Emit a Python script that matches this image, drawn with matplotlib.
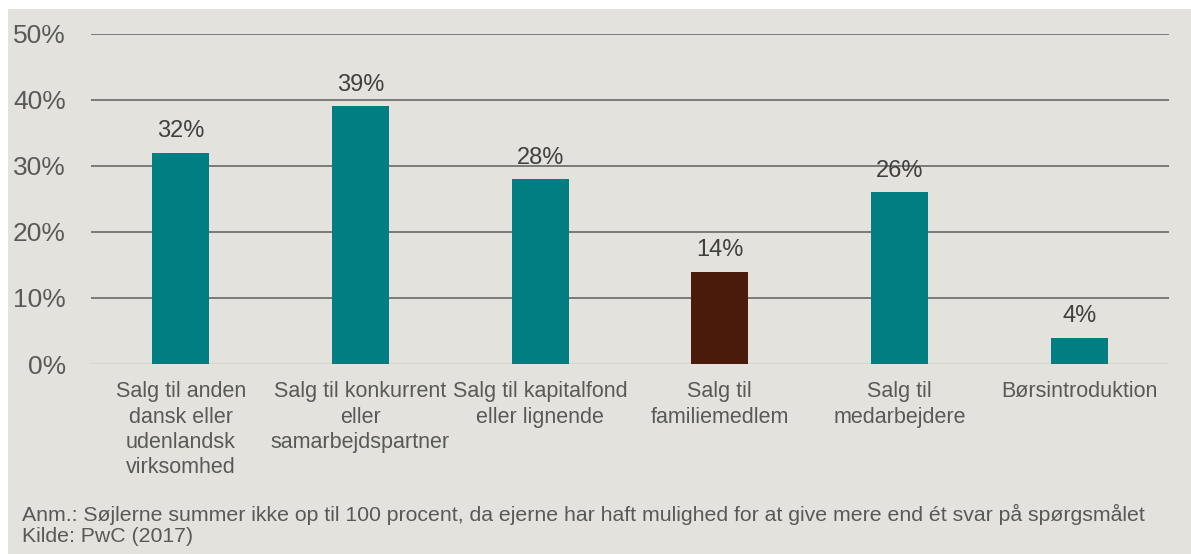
import matplotlib
matplotlib.use('Agg')
import matplotlib.pyplot as plt
from matplotlib.patches import Rectangle

plt.rcParams['font.family'] = ['Liberation Sans', 'DejaVu Sans']

categories = [
    'Salg til anden\ndansk eller\nudenlandsk\nvirksomhed',
    'Salg til konkurrent\neller\nsamarbejdspartner',
    'Salg til kapitalfond\neller lignende',
    'Salg til\nfamiliemedlem',
    'Salg til\nmedarbejdere',
    'Børsintroduktion',
]
values = [32, 39, 28, 14, 26, 4]
value_labels = ['32%', '39%', '28%', '14%', '26%', '4%']
highlight = [False, False, False, True, False, False]
yticks = [0, 10, 20, 30, 40, 50]
ytick_labels = ['0%', '10%', '20%', '30%', '40%', '50%']
note = ('Anm.: Søjlerne summer ikke op til 100 procent, da ejerne har haft '
        'mulighed for at give mere end ét svar på spørgsmålet')
source = 'Kilde: PwC (2017)'

TEAL = '#007E82'
BROWN = '#4A1B0A'
BG = '#E3E2DD'
GRID = '#686868'
TXT = '#595959'
VAL = '#404040'

W, H = 1191, 554
fig = plt.figure(figsize=(W / 100, H / 100), dpi=100, facecolor='white')
fig.patches.append(Rectangle((8 / W, 0), 1, 1 - 9 / H, transform=fig.transFigure,
                             facecolor=BG, edgecolor='none', zorder=-10))

ax = fig.add_axes([91 / W, 1 - 364 / H, (1169 - 91) / W, (364 - 33.7) / H])
ax.set_facecolor(BG)
ax.patch.set_alpha(0)

x = list(range(len(categories)))
colors = [BROWN if h else TEAL for h in highlight]
bars = ax.bar(x, values, width=0.317, color=colors, zorder=3)

for b, lbl in zip(bars, value_labels):
    ax.annotate(lbl, (b.get_x() + b.get_width() / 2, b.get_height()),
                xytext=(0, 11), textcoords='offset points', ha='center',
                va='baseline', fontsize=17, color=VAL)

ax.set_xlim(-0.5, len(categories) - 0.5)
ax.set_ylim(0, 50)
ax.set_yticks(yticks)
ax.set_yticklabels(ytick_labels, fontsize=19, color=TXT)
ax.set_xticks(x)
ax.set_xticklabels(categories, fontsize=15.5, color=TXT, linespacing=1.27, va='top')
ax.tick_params(axis='both', length=0)
ax.tick_params(axis='y', pad=18)
ax.tick_params(axis='x', pad=12.5)

for yv in yticks[1:]:
    ax.axhline(yv, color=GRID, lw=1.2, zorder=1)
ax.axhline(0, color='#D6D5D0', lw=1.6, zorder=2)

for s in ax.spines.values():
    s.set_visible(False)

fig.text(22 / W, 1 - 514 / H, note, fontsize=15.3, color=TXT, va='center', ha='left')
fig.text(22 / W, 1 - 536 / H, source, fontsize=15.3, color=TXT, va='center', ha='left')

fig.savefig('out.png', dpi=100, facecolor='white')
